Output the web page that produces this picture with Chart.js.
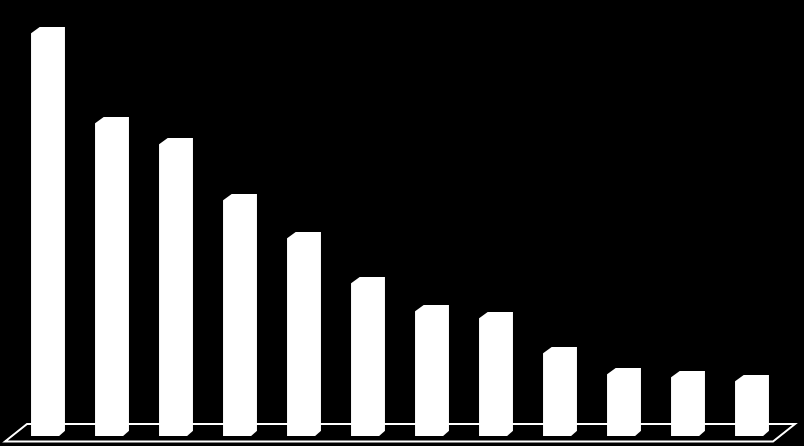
<!DOCTYPE html>
<html>
<head>
<meta charset="utf-8">
<script src="https://cdn.jsdelivr.net/npm/chart.js@4.4.1/dist/chart.umd.min.js"></script>
<style>
  html, body { margin: 0; padding: 0; background: #000; }
  #wrap { width: 804px; height: 446px; }
</style>
</head>
<body>
<div id="wrap"><canvas id="bars"></canvas></div>
<script>
// bar heights (no labels shown in the original)
var labels = ['1', '2', '3', '4', '5', '6', '7', '8', '9', '10', '11', '12'];
var values = [409, 319, 298, 242, 204, 159, 131, 124, 89, 68, 65, 61];
var yMax = 436;

/* black backdrop + 3D floor outline under the bars */
var floorPlugin = {
  id: 'floor',
  beforeDraw: function(chart) {
    var c = chart.ctx;
    c.save();
    c.fillStyle = '#000';
    c.fillRect(0, 0, chart.width, chart.height);
    c.restore();
  },
  beforeDatasetsDraw: function(chart) {
    var c = chart.ctx, a = chart.chartArea;
    var yBack = chart.scales.y.getPixelForValue(12);
    var yFront = a.bottom + 5.5;
    c.save();
    c.strokeStyle = '#fff';
    c.lineWidth = 2;
    c.beginPath();
    c.moveTo(a.left - 11, yFront);
    c.lineTo(a.left + 11, yBack);
    c.lineTo(a.right + 11, yBack);
    c.lineTo(a.right - 11, yFront);
    c.closePath();
    c.stroke();
    c.restore();
  },
  // chamfer top-left and bottom-right corners for the 3D look
  afterDatasetsDraw: function(chart) {
    var c = chart.ctx;
    c.save();
    c.fillStyle = '#000';
    chart.getDatasetMeta(0).data.forEach(function(bar) {
      var l = bar.x - bar.width / 2, r = bar.x + bar.width / 2;
      var t = bar.y, b = bar.base;
      c.beginPath();
      c.moveTo(l - 1, t - 1);
      c.lineTo(l + 10, t - 1);
      c.lineTo(l - 1, t + 7);
      c.closePath();
      c.fill();
      c.beginPath();
      c.moveTo(r + 1, b + 1);
      c.lineTo(r - 7, b + 1);
      c.lineTo(r + 1, b - 6);
      c.closePath();
      c.fill();
    });
    c.restore();
  }
};

new Chart(document.getElementById('bars'), {
  type: 'bar',
  data: {
    labels: labels,
    datasets: [{
      data: values,
      backgroundColor: '#fff',
      borderWidth: 0,
      barPercentage: 0.53,
      categoryPercentage: 1
    }]
  },
  options: {
    responsive: true,
    maintainAspectRatio: false,
    animation: false,
    layout: { padding: { left: 16, right: 20, top: 0, bottom: 10 } },
    plugins: { legend: { display: false }, tooltip: { enabled: false } },
    scales: {
      x: { display: false, offset: true },
      y: { display: false, min: 0, max: yMax }
    }
  },
  plugins: [floorPlugin]
});
</script>
</body>
</html>
